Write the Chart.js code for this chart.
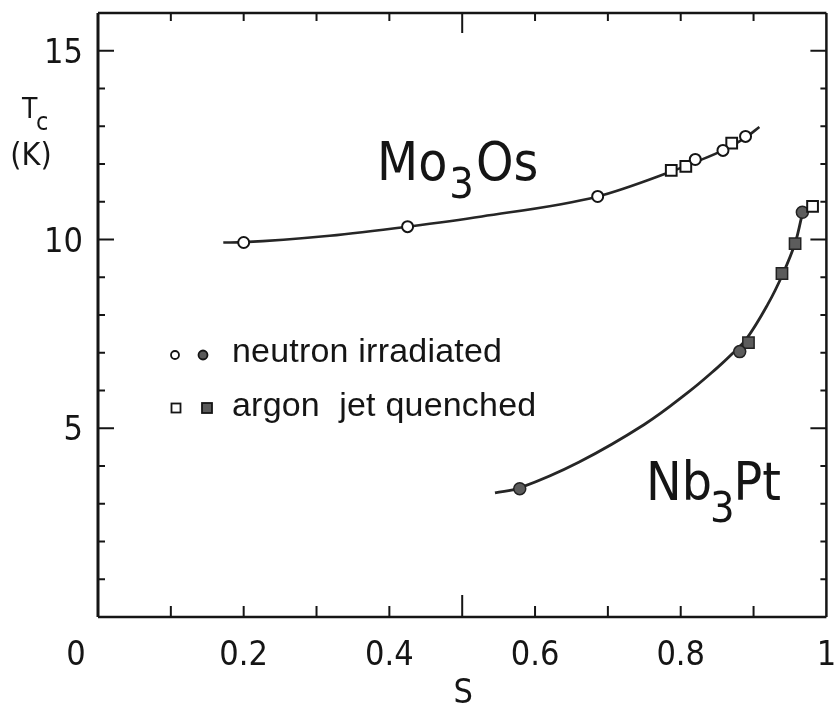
<!DOCTYPE html>
<html>
<head>
<meta charset="utf-8">
<title>Tc versus S</title>
<script src="https://cdn.jsdelivr.net/npm/chart.js@4.4.1/dist/chart.umd.min.js"></script>
<style>
  html, body { margin: 0; padding: 0; background: #fff; }
  #wrap { width: 836px; height: 707px; position: relative; }
</style>
</head>
<body>
<div id="wrap"><canvas id="tcChart"></canvas></div>
<script>
// --- Data: order parameter S vs transition temperature Tc (K) ---
// Mo3Os, neutron irradiated (open circles)
const moIrrS  = [0.200, 0.425, 0.686, 0.820, 0.858, 0.889];
const moIrrTc = [9.92, 10.34, 11.14, 12.12, 12.36, 12.73];
// Mo3Os, argon jet quenched (open squares)
const moQuenchS  = [0.787, 0.807, 0.870];
const moQuenchTc = [11.83, 11.94, 12.55];
// Nb3Pt, neutron irradiated (filled circles)
const nbIrrS  = [0.579, 0.881, 0.967];
const nbIrrTc = [3.40, 7.03, 10.72];
// Nb3Pt, argon jet quenched (filled squares, plus one open square)
const nbQuenchS  = [0.893, 0.939, 0.957];
const nbQuenchTc = [7.27, 9.10, 9.89];
const nbOpenS  = [0.981];
const nbOpenTc = [10.88];

// hand drawn guide curves through each set
const moCurveS  = [0.172, 0.200, 0.318, 0.425, 0.527, 0.686, 0.787, 0.820, 0.858, 0.889, 0.908];
const moCurveTc = [9.92, 9.93, 10.10, 10.34, 10.61, 11.14, 11.80, 12.05, 12.36, 12.70, 12.98];
const nbCurveS  = [0.545, 0.579, 0.660, 0.750, 0.810, 0.850, 0.870, 0.890, 0.920, 0.940, 0.957, 0.966];
const nbCurveTc = [3.29, 3.42, 4.10, 5.10, 5.95, 6.60, 6.96, 7.36, 8.30, 9.08, 9.90, 10.60];

// axis ranges and labels
const sTicks  = [0, 0.2, 0.4, 0.6, 0.8, 1];
const tcTicks = [5, 10, 15];
const tcMax = 16;

const INK = '#151515';
const NARROW = "'Liberation Sans Narrow', 'DejaVu Sans Condensed', sans-serif";
const WIDE = "'Liberation Sans', Arial, sans-serif";

function pts(xs, ys) {
    return xs.map((x, i) => ({ x: x, y: ys[i] }));
}

// frame, inward ticks, tick labels, titles and legend
const decorations = {
    id: 'decorations',
    afterDraw(chart) {
        const { ctx, chartArea: a, scales: { x, y } } = chart;
        ctx.save();
        ctx.strokeStyle = INK;
        ctx.lineCap = 'butt';

        function line(x1, y1, x2, y2, w) {
            ctx.lineWidth = w;
            ctx.beginPath();
            ctx.moveTo(x1, y1);
            ctx.lineTo(x2, y2);
            ctx.stroke();
        }

        // box
        line(a.left, a.top, a.left, a.bottom, 3);
        line(a.left, a.bottom, a.right, a.bottom, 2.5);
        line(a.left, a.top, a.right, a.top, 2.5);
        line(a.right, a.top, a.right, a.bottom, 2.5);

        // ticks every 0.1 in S, longer one at 0.5
        for (let i = 1; i < 10; i++) {
            const px = x.getPixelForValue(i / 10);
            const big = i === 5;
            line(px, a.bottom, px, a.bottom - (big ? 22 : 11), 2);
            line(px, a.top, px, a.top + (big ? 20 : 8), 2);
        }
        // ticks every 1 K, longer at 5, 10, 15
        for (let t = 1; t < tcMax; t++) {
            const py = y.getPixelForValue(t);
            const big = t % 5 === 0;
            line(a.left, py, a.left + (big ? 16 : 7), py, 2);
            line(a.right, py, a.right - (big ? 16 : 6), py, 2);
        }

        ctx.fillStyle = INK;
        ctx.textBaseline = 'alphabetic';
        ctx.font = '34px ' + NARROW;

        // S labels; the "0" sits left of the corner
        ctx.textAlign = 'center';
        sTicks.forEach(v => {
            const px = x.getPixelForValue(v) + (v === 0 ? -22 : 0);
            ctx.fillText(String(v), px, 665);
        });
        // Tc labels
        ctx.textAlign = 'right';
        tcTicks.forEach(v => {
            ctx.fillText(String(v), a.left - 15, y.getPixelForValue(v) + 12);
        });

        // axis titles
        ctx.textAlign = 'center';
        ctx.fillText('S', (a.left + a.right) / 2 + 1, 703);
        ctx.textAlign = 'left';
        ctx.font = '28px ' + NARROW;
        ctx.fillText('T', 22, 118);
        ctx.font = '25px ' + NARROW;
        ctx.fillText('c', 36, 130);
        ctx.font = '32px ' + NARROW;
        ctx.textAlign = 'center';
        ctx.fillText('(K)', 31, 165);

        // compound names with subscripts
        function formula(parts, x0, base) {
            let cx = x0;
            ctx.textAlign = 'left';
            parts.forEach(p => {
                ctx.font = p.size + 'px ' + NARROW;
                ctx.fillText(p.t, cx, base + (p.dy || 0));
                cx += ctx.measureText(p.t).width + (p.gap || 0);
            });
        }
        formula([{ t: 'Mo', size: 53, gap: 2 }, { t: '3', size: 43, dy: 18, gap: 2 }, { t: 'Os', size: 53 }], 377, 180);
        formula([{ t: 'Nb', size: 53, gap: -2 }, { t: '3', size: 43, dy: 22, gap: -1 }, { t: 'Pt', size: 53 }], 646, 500);

        // legend
        ctx.lineWidth = 1.8;
        ctx.beginPath();
        ctx.arc(175, 355, 4, 0, Math.PI * 2);
        ctx.stroke();
        ctx.fillStyle = '#5a5a5a';
        ctx.beginPath();
        ctx.arc(203, 355, 4.5, 0, Math.PI * 2);
        ctx.fill();
        ctx.stroke();
        ctx.strokeRect(171.5, 403.5, 9, 9);
        ctx.fillRect(202, 403, 10, 10);
        ctx.strokeRect(202, 403, 10, 10);

        ctx.fillStyle = INK;
        ctx.font = '34px ' + WIDE;
        ctx.letterSpacing = '0.2px';
        ctx.textAlign = 'left';
        ctx.fillText('neutron irradiated', 232, 362);
        ctx.fillText('argon  jet quenched', 232, 416);

        ctx.restore();
    }
};

const ctx = document.getElementById('tcChart').getContext('2d');

new Chart(ctx, {
    type: 'scatter',
    data: {
        datasets: [
            {
                label: 'Mo3Os curve',
                data: pts(moCurveS, moCurveTc),
                showLine: true,
                borderColor: '#262626',
                borderWidth: 2.6,
                pointRadius: 0,
                cubicInterpolationMode: 'monotone',
                order: 2
            },
            {
                label: 'Nb3Pt curve',
                data: pts(nbCurveS, nbCurveTc),
                showLine: true,
                borderColor: '#262626',
                borderWidth: 2.8,
                pointRadius: 0,
                tension: 0.4,
                order: 2
            },
            {
                label: 'Mo3Os neutron irradiated',
                data: pts(moIrrS, moIrrTc),
                pointStyle: 'circle',
                pointRadius: 5.5,
                borderWidth: 2,
                borderColor: INK,
                backgroundColor: '#fff',
                order: 1
            },
            {
                label: 'Mo3Os argon jet quenched',
                data: pts(moQuenchS, moQuenchTc),
                pointStyle: 'rect',
                pointRadius: 7.6,
                borderWidth: 2,
                borderColor: INK,
                backgroundColor: '#fff',
                order: 1
            },
            {
                label: 'Nb3Pt neutron irradiated',
                data: pts(nbIrrS, nbIrrTc),
                pointStyle: 'circle',
                pointRadius: 6,
                borderWidth: 1.5,
                borderColor: '#222',
                backgroundColor: '#5c5c5c',
                order: 1
            },
            {
                label: 'Nb3Pt argon jet quenched',
                data: pts(nbQuenchS, nbQuenchTc),
                pointStyle: 'rect',
                pointRadius: 8,
                borderWidth: 1.5,
                borderColor: '#222',
                backgroundColor: '#5c5c5c',
                order: 1
            },
            {
                label: 'Nb3Pt argon jet quenched (open)',
                data: pts(nbOpenS, nbOpenTc),
                pointStyle: 'rect',
                pointRadius: 7.6,
                borderWidth: 2,
                borderColor: INK,
                backgroundColor: '#fff',
                order: 0
            }
        ]
    },
    options: {
        responsive: true,
        maintainAspectRatio: false,
        animation: false,
        layout: { padding: { top: 13, right: 1, left: 0, bottom: 0 } },
        plugins: {
            legend: { display: false },
            tooltip: { enabled: false }
        },
        scales: {
            x: {
                type: 'linear',
                min: sTicks[0],
                max: sTicks[sTicks.length - 1],
                grid: { display: false, drawTicks: false },
                border: { display: false },
                ticks: { display: false },
                afterFit: scale => {
                    scale.height = 90;
                }
            },
            y: {
                type: 'linear',
                min: 0,
                max: tcMax,
                grid: { display: false, drawTicks: false },
                border: { display: false },
                ticks: { display: false },
                afterFit: scale => {
                    scale.width = 98;
                }
            }
        }
    },
    plugins: [decorations]
});
</script>
</body>
</html>
